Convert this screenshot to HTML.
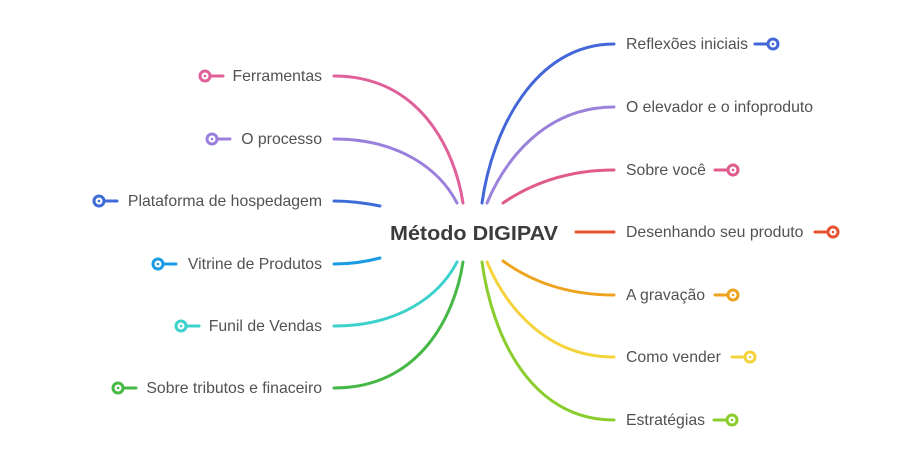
<!DOCTYPE html>
<html>
<head>
<meta charset="utf-8">
<style>
  html,body{margin:0;padding:0;background:#fff;}
  svg{display:block;}
  .lbl{font-family:"Liberation Sans",sans-serif;font-size:15.8px;fill:#525252;}
</style>
</head>
<body>
<svg width="916" height="462" viewBox="0 0 916 462" xmlns="http://www.w3.org/2000/svg">
  <rect width="916" height="462" fill="#fff"/>
  <g fill="none" stroke-width="3" stroke-linecap="round">
    <!-- left -->
    <path d="M334,76 C420,76 455,150 463,203" stroke="#e0609a"/>
    <path d="M334,139 C400,139 440,170 457,203" stroke="#9b7fdc"/>
    <path d="M334,201 C350,201 365,203 380,206" stroke="#3d6cd9"/>
    <path d="M334,264 C350,264 365,262 380,258" stroke="#1a9be3"/>
    <path d="M334,326 C400,326 440,295 457,262" stroke="#3dd1cc"/>
    <path d="M334,388 C420,388 455,315 463,262" stroke="#46b846"/>
    <!-- right -->
    <path d="M614,44 C535,44 492,130 482,203" stroke="#4367d9"/>
    <path d="M614,107 C545,107 505,160 487,203" stroke="#9b80dc"/>
    <path d="M614,170 C560,170 525,188 503,203" stroke="#e05a8c"/>
    <path d="M576,232 L614,232" stroke="#e8512f"/>
    <path d="M503,261 C525,277 560,295 614,295" stroke="#eea31e"/>
    <path d="M487,262 C505,305 545,357 614,357" stroke="#f5d33c"/>
    <path d="M482,262 C492,335 530,420 614,420" stroke="#8acd2c"/>
  </g>

  <!-- icons -->
  <g stroke-width="3" stroke-linecap="round">
    <g stroke="#e0609a"><line x1="211" y1="76" x2="223" y2="76"/><circle cx="205" cy="76" r="5" fill="#fff"/><circle cx="205" cy="76" r="1.3" fill="#e0609a" stroke="none"/></g>
    <g stroke="#9b7fdc"><line x1="218" y1="139" x2="230" y2="139"/><circle cx="212" cy="139" r="5" fill="#fff"/><circle cx="212" cy="139" r="1.3" fill="#9b7fdc" stroke="none"/></g>
    <g stroke="#3d6cd9"><line x1="105" y1="201" x2="117" y2="201"/><circle cx="99" cy="201" r="5" fill="#fff"/><circle cx="99" cy="201" r="1.3" fill="#3d6cd9" stroke="none"/></g>
    <g stroke="#1a9be3"><line x1="164" y1="264" x2="176" y2="264"/><circle cx="158" cy="264" r="5" fill="#fff"/><circle cx="158" cy="264" r="1.3" fill="#1a9be3" stroke="none"/></g>
    <g stroke="#3dd1cc"><line x1="187" y1="326" x2="199" y2="326"/><circle cx="181" cy="326" r="5" fill="#fff"/><circle cx="181" cy="326" r="1.3" fill="#3dd1cc" stroke="none"/></g>
    <g stroke="#46b846"><line x1="124" y1="388" x2="136" y2="388"/><circle cx="118" cy="388" r="5" fill="#fff"/><circle cx="118" cy="388" r="1.3" fill="#46b846" stroke="none"/></g>
    <g stroke="#4367d9"><line x1="755" y1="44" x2="767" y2="44"/><circle cx="773" cy="44" r="5" fill="#fff"/><circle cx="773" cy="44" r="1.3" fill="#4367d9" stroke="none"/></g>
    <g stroke="#e05a8c"><line x1="715" y1="170" x2="727" y2="170"/><circle cx="733" cy="170" r="5" fill="#fff"/><circle cx="733" cy="170" r="1.3" fill="#e05a8c" stroke="none"/></g>
    <g stroke="#e8512f"><line x1="815" y1="232" x2="827" y2="232"/><circle cx="833" cy="232" r="5" fill="#fff"/><circle cx="833" cy="232" r="1.3" fill="#e8512f" stroke="none"/></g>
    <g stroke="#eea31e"><line x1="715" y1="295" x2="727" y2="295"/><circle cx="733" cy="295" r="5" fill="#fff"/><circle cx="733" cy="295" r="1.3" fill="#eea31e" stroke="none"/></g>
    <g stroke="#f5d33c"><line x1="732" y1="357" x2="744" y2="357"/><circle cx="750" cy="357" r="5" fill="#fff"/><circle cx="750" cy="357" r="1.3" fill="#f5d33c" stroke="none"/></g>
    <g stroke="#8acd2c"><line x1="714" y1="420" x2="726" y2="420"/><circle cx="732" cy="420" r="5" fill="#fff"/><circle cx="732" cy="420" r="1.3" fill="#8acd2c" stroke="none"/></g>
  </g>

  <!-- center -->
  <text x="390" y="240" textLength="168" lengthAdjust="spacingAndGlyphs" font-family="Liberation Sans, sans-serif" font-weight="bold" font-size="20.5" fill="#3c3c3c">Método DIGIPAV</text>

  <!-- left labels -->
  <g class="lbl" text-anchor="end">
    <text x="322" y="81">Ferramentas</text>
    <text x="322" y="144">O processo</text>
    <text x="322" y="206">Plataforma de hospedagem</text>
    <text x="322" y="269">Vitrine de Produtos</text>
    <text x="322" y="331">Funil de Vendas</text>
    <text x="322" y="393">Sobre tributos e finaceiro</text>
  </g>

  <!-- right labels -->
  <g class="lbl">
    <text x="626" y="49">Reflexões iniciais</text>
    <text x="626" y="112">O elevador e o infoproduto</text>
    <text x="626" y="175">Sobre você</text>
    <text x="626" y="237">Desenhando seu produto</text>
    <text x="626" y="300">A gravação</text>
    <text x="626" y="362">Como vender</text>
    <text x="626" y="425">Estratégias</text>
  </g>
</svg>
</body>
</html>
